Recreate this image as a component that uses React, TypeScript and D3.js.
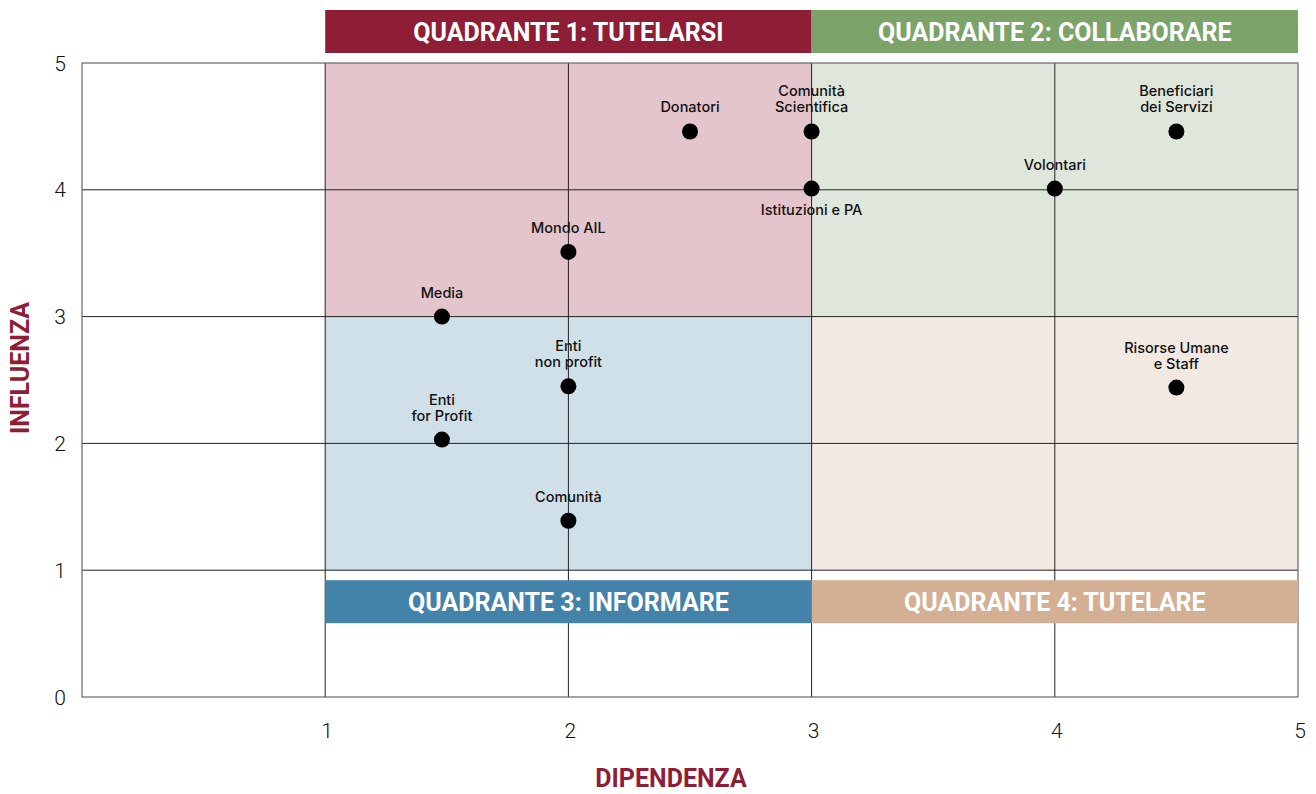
import React from "react";
import * as d3 from "d3";

const xTicks = [1, 2, 3, 4, 5];
const yTicks = [0, 1, 2, 3, 4, 5];

const quadrantNames = [
  "QUADRANTE 1: TUTELARSI",
  "QUADRANTE 2: COLLABORARE",
  "QUADRANTE 3: INFORMARE",
  "QUADRANTE 4: TUTELARE",
];
const quadrantX0 = [1, 3, 1, 3];
const quadrantX1 = [3, 5, 3, 5];
const quadrantY0 = [3, 3, 1, 1];
const quadrantY1 = [5, 5, 3, 3];
const quadrantFill = ["#E4C5CB", "#DFE6DB", "#D0E0E8", "#F3E9E3"];
const quadrantHeader = ["#8E1D36", "#7BA36A", "#4382A9", "#D3B094"];

const pointNames = [
  ["Donatori"],
  ["Comunità", "Scientifica"],
  ["Istituzioni e PA"],
  ["Beneficiari", "dei Servizi"],
  ["Volontari"],
  ["Mondo AIL"],
  ["Media"],
  ["Enti", "non profit"],
  ["Enti", "for Profit"],
  ["Comunità"],
  ["Risorse Umane", "e Staff"],
];
const pointX = [2.5, 3, 3, 4.5, 4, 2, 1.48, 2, 1.48, 2, 4.5];
const pointY = [4.46, 4.46, 4.01, 4.46, 4.01, 3.51, 3.0, 2.45, 2.03, 1.39, 2.44];
const labelBelow = [false, false, true, false, false, false, false, false, false, false, false];

const W = 1316;
const H = 794;

export default function App() {
  const x = d3.scaleLinear().domain([0, 5]).range([82, 1298]);
  const y = d3.scaleLinear().domain([0, 5]).range([697, 63]);
  const font = "Inter, 'Noto Sans', sans-serif";
  const headFont = "Roboto, 'Noto Sans', sans-serif";
  const maroon = "#8E1D36";

  return (
    <svg width={W} height={H} style={{ position: "absolute", left: 0, top: 0 }}>
      <rect x={0} y={0} width={W} height={H} fill="#fff" />
      {quadrantNames.map((_, i) => (
        <rect
          key={"q" + i}
          x={x(quadrantX0[i])}
          y={y(quadrantY1[i])}
          width={x(quadrantX1[i]) - x(quadrantX0[i])}
          height={y(quadrantY0[i]) - y(quadrantY1[i])}
          fill={quadrantFill[i]}
        />
      ))}
      {[1, 2, 3, 4].map((t) => (
        <line key={"gx" + t} x1={x(t)} x2={x(t)} y1={y(0)} y2={y(5)} stroke="#222" strokeWidth={1} />
      ))}
      {[1, 2, 3, 4].map((t) => (
        <line key={"gy" + t} x1={x(0)} x2={x(5)} y1={y(t)} y2={y(t)} stroke="#222" strokeWidth={1} />
      ))}
      <rect x={x(0)} y={y(5)} width={x(5) - x(0)} height={y(0) - y(5)} fill="none" stroke="#666" strokeWidth={1.2} />
      {quadrantNames.map((name, i) => {
        const top = i < 2;
        const yTop = top ? y(5) - 53 : y(1) + 10;
        const x0 = x(quadrantX0[i]);
        const w = x(quadrantX1[i]) - x0;
        return (
          <g key={"h" + i}>
            <rect x={x0} y={yTop} width={w} height={43} fill={quadrantHeader[i]} />
            <text
              x={x0 + w / 2}
              y={yTop + 22}
              dy="0.36em"
              textAnchor="middle"
              fill="#fff"
              fontFamily={headFont}
              fontWeight={700}
              fontSize={25}
            >
              {name}
            </text>
          </g>
        );
      })}
      {yTicks.map((t) => (
        <text key={"yt" + t} x={66} y={y(t)} dy="0.36em" textAnchor="end" fontFamily={headFont} fontWeight={300} fontSize={21} fill="#111">
          {t}
        </text>
      ))}
      {xTicks.map((t) => (
        <text key={"xt" + t} x={x(t) + 2} y={730} dy="0.36em" textAnchor="middle" fontFamily={headFont} fontWeight={300} fontSize={21} fill="#111">
          {t}
        </text>
      ))}
      <text x={671} y={787} textAnchor="middle" fontFamily={headFont} fontWeight={700} fontSize={25} fill={maroon}>
        DIPENDENZA
      </text>
      <text
        transform={`translate(29,368) rotate(-90)`}
        textAnchor="middle"
        fontFamily={headFont}
        fontWeight={700}
        fontSize={25}
        fill={maroon}
      >
        INFLUENZA
      </text>
      {pointNames.map((lines, i) => {
        const cx = x(pointX[i]);
        const cy = y(pointY[i]);
        const n = lines.length;
        return (
          <g key={"p" + i}>
            <circle cx={cx} cy={cy} r={8} fill="#000" />
            {lines.map((ln, j) => (
              <text
                key={j}
                x={cx}
                y={labelBelow[i] ? cy + 26 + j * 16 : cy - 19 - (n - 1 - j) * 16}
                textAnchor="middle"
                fontFamily={font}
                fontWeight={500}
                fontSize={14.5}
                fill="#111"
              >
                {ln}
              </text>
            ))}
          </g>
        );
      })}
    </svg>
  );
}
